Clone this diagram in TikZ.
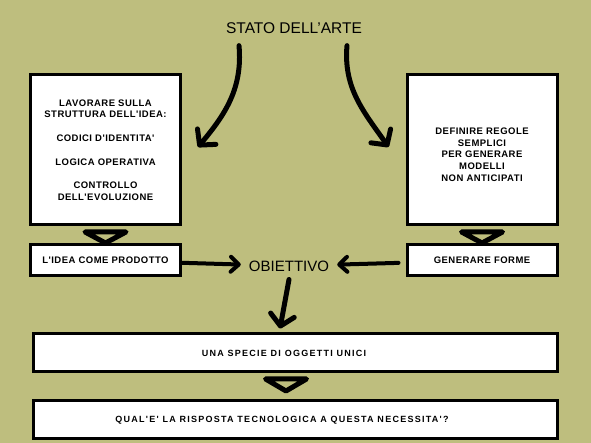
\documentclass[tikz,border=0pt]{standalone}
\usepackage{fontspec}
\setmainfont{Liberation Sans}
\newfontfamily\boxfont[LetterSpace=5]{Liberation Sans Bold}
\newfontfamily\widefont[LetterSpace=14]{Liberation Sans Bold}
\usepackage{xcolor}
\usetikzlibrary{positioning, arrows.meta, calc}
\definecolor{olive}{RGB}{190,190,126}

\begin{document}
\begin{tikzpicture}[
        x=1pt, y=1pt,
        box/.style={
            rectangle,
            draw,
            line width=3pt,
            fill=white,
            minimum width=150pt,
            align=center,
            font=\boxfont\fontsize{9.5}{11.7}\selectfont
        },
        longbox/.style={
            box,
            minimum width=524pt,
            minimum height=38pt,
            font=\widefont\fontsize{9}{11.7}\selectfont
        },
        bigarrow/.style={
            line width=5pt,
            line cap=round,
            -{Straight Barb[round, length=11pt, width=24pt]}
        },
        flatarrow/.style={
            line width=4pt,
            line cap=round,
            -{Straight Barb[round, length=8pt, width=15pt]}
        },
        tri/.style={
            draw,
            line width=5pt,
            line join=round
        }
    ]
        \useasboundingbox[fill=olive] (0,0) rectangle (591,443);

        % Nodes
        \node[font=\fontsize{15.5}{17}\selectfont, inner sep=3pt] (stato) at (294,415) {STATO DELL'ARTE};
        \node[box, minimum height=150pt] (lavorare) at (105.5,293)
            {LAVORARE SULLA\\STRUTTURA DELL'IDEA:\\[12pt]CODICI D'IDENTITA'\\[12pt]LOGICA OPERATIVA\\[12pt]CONTROLLO\\DELL'EVOLUZIONE};
        \node[box, minimum height=150pt] (definire) at (482,293)
            {\rule{0pt}{16pt}DEFINIRE REGOLE\\SEMPLICI\\PER GENERARE\\MODELLI\\NON ANTICIPATI};
        \node[box, minimum height=31pt, below=17pt of lavorare] (idea) {L'IDEA COME PRODOTTO};
        \node[box, minimum height=31pt, below=17pt of definire] (forme) {GENERARE FORME};
        \node[font=\fontsize{15}{17}\selectfont, inner sep=8pt] (obiettivo) at (289,177) {OBIETTIVO};
        \node[longbox] (specie) at (295,90) {UNA SPECIE DI OGGETTI UNICI\hspace*{22pt}};
        \node[longbox, below=26pt of specie] (risposta) {QUAL'E' LA RISPOSTA TECNOLOGICA A QUESTA NECESSITA'?\hspace*{26pt}};

        % Arrows
        \draw[bigarrow] ([xshift=-55pt,yshift=-9pt]stato.south) to[out=-85, in=50] ([xshift=16pt,yshift=3pt]lavorare.east);
        \draw[bigarrow] ([xshift=53pt,yshift=-9pt]stato.south) to[out=-95, in=125] ([xshift=-17pt,yshift=3pt]definire.west);
        \draw[flatarrow] (idea) -- (obiettivo);
        \draw[flatarrow, shorten <=7pt] (forme) -- (obiettivo);
        \draw[bigarrow] (obiettivo.south) -- ([xshift=-15pt,yshift=4pt]specie.north);

        % Triangles
        \draw[tri] ([xshift=-20.5pt,yshift=-5.5pt]lavorare.south) -- ([xshift=20.5pt,yshift=-5.5pt]lavorare.south) -- ([yshift=-16.5pt]lavorare.south) -- cycle;
        \draw[tri] ([xshift=-20.5pt,yshift=-5.5pt]definire.south) -- ([xshift=20.5pt,yshift=-5.5pt]definire.south) -- ([yshift=-16.5pt]definire.south) -- cycle;
        \draw[tri] ([xshift=-29.5pt,yshift=-5.5pt]specie.south) -- ([xshift=11.5pt,yshift=-5.5pt]specie.south) -- ([xshift=-9pt,yshift=-17.5pt]specie.south) -- cycle;
    \end{tikzpicture}
\end{document}
